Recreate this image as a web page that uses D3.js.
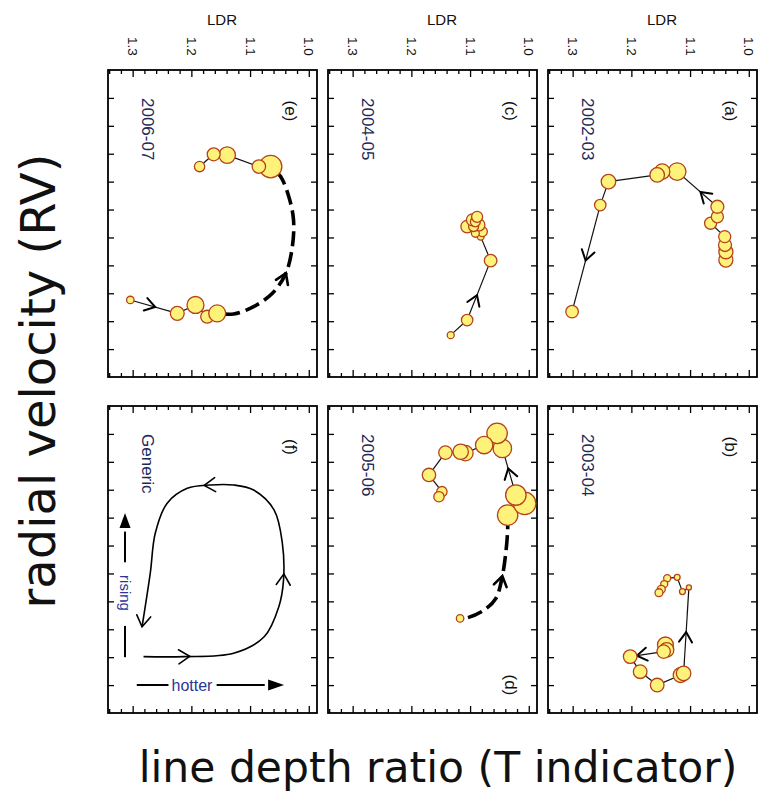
<!DOCTYPE html>
<html><head><meta charset="utf-8">
<script src="https://cdn.jsdelivr.net/npm/d3@7"></script>
<style>body{margin:0;background:#fff}svg{display:block}</style>
</head><body>
<script>
// ---------- data ----------
const ldrTicks = [1.0, 1.1, 1.2, 1.3];
const ldrTickLabels = ["1.0", "1.1", "1.2", "1.3"];
const ldrMinorTicks = [1.02,1.04,1.06,1.08,1.12,1.14,1.16,1.18,1.22,1.24,1.26,1.28,1.32,1.34];
const rvTicks = [1,2,3,4,5,6,7,8,9,10];

const panelLabels = ["(a)", "(b)", "(c)", "(d)", "(e)", "(f)"];
const panelPeriods = ["2002-03", "2003-04", "2004-05", "2005-06", "2006-07", "Generic"];

// (a) 2002-03
const aLDR = [1.039,1.039,1.0405,1.041,1.065,1.0535,1.0535,1.122,1.1475,1.156,1.239,1.253,1.301];
const aRV  = [6.81,6.51,6.27,5.97,5.49,5.26,4.90,3.64,3.64,3.76,4.00,4.84,8.66];
const aW   = [0.64,0.64,0.59,0.55,0.55,0.55,0.59,0.80,0.70,0.66,0.66,0.52,0.57];
// (b) 2003-04
const bLDR = [1.142,1.140,1.145,1.202,1.185,1.156,1.116,1.111,1.102,1.113,1.122,1.139,1.144,1.149,1.153];
const bRV  = [8.56,8.74,8.80,8.98,9.52,10.00,9.64,9.58,6.50,6.65,6.14,6.17,6.38,6.57,6.69];
const bW   = [0.72,0.66,0.61,0.62,0.62,0.62,0.68,0.66,0.23,0.27,0.27,0.32,0.32,0.36,0.36];
// (c) 2004-05
const cLDR = [1.133,1.105,1.065,1.082,1.079,1.091,1.085,1.105,1.094,1.096,1.091,1.088];
const cRV  = [9.50,8.96,6.83,5.97,5.79,5.85,5.55,5.61,5.61,5.37,5.44,5.26];
const cW   = [0.32,0.52,0.57,0.32,0.45,0.36,0.55,0.57,0.45,0.55,0.45,0.50];
// (d) 2005-06
const dLDR = [1.117,1.036,1.007,1.022,1.045,1.054,1.076,1.108,1.116,1.142,1.170,1.148,1.153];
const dRV  = [7.61,3.91,3.49,3.19,1.52,0.98,1.40,1.69,1.64,1.67,2.47,3.07,3.25];
const dW   = [0.34,0.93,1.02,0.93,0.84,0.93,0.79,0.70,0.70,0.61,0.61,0.47,0.47];
const dGapLDR = [1.117,1.105,1.076,1.056,1.045,1.039,1.036,1.036];
const dGapRV  = [7.61,7.59,7.31,6.89,6.09,5.23,4.44,3.91];
// (e) 2006-07
const eLDR = [1.304,1.224,1.193,1.173,1.156,1.065,1.085,1.139,1.162,1.186];
const eRV  = [8.24,8.72,8.42,8.84,8.72,3.46,3.46,3.05,3.02,3.46];
const eW   = [0.34,0.63,0.77,0.59,0.77,1.02,0.61,0.75,0.59,0.47];
const eGapLDR = [1.156,1.128,1.094,1.062,1.039,1.028,1.026,1.034,1.048,1.065];
const eGapRV  = [8.72,8.74,8.48,8.00,7.28,6.33,5.37,4.54,3.82,3.46];
// (f) generic loop
const fLoopLDR = [1.2815,1.213,1.128,1.076,1.051,1.043,1.045,1.059,1.094,1.128,1.168,1.207,1.2415,1.2615,1.270,1.284];
const fLoopRV  = [8.98,8.98,8.86,8.27,7.19,6.23,4.92,3.73,3.01,2.83,2.83,2.95,3.49,4.56,5.99,7.91];

// ---------- layout ----------
const W = 759, H = 795;
const colLeft = [108, 328, 548], rowTop = [70, 406];
const PW = 209, PH = 307;
const fillC = "#fff27a", strokeC = "#b5421a", navy = "#1c2a58", blue = "#2b3596";
const smallFont = "'Liberation Sans', Arial, sans-serif";

const svg = d3.select("body").append("svg").attr("width", W).attr("height", H)
  .style("background", "#fff");

const panels = [
  {i:0, col:2, row:0, ldr:aLDR, rv:aRV, w:aW, arrows:[{seg:6,t:0.42},{seg:11,t:0.52}]},
  {i:1, col:2, row:1, ldr:bLDR, rv:bRV, w:bW, arrows:[{seg:2,t:0.8},{seg:7,t:0.48}]},
  {i:2, col:1, row:0, ldr:cLDR, rv:cRV, w:cW, arrows:[{seg:1,t:0.42}]},
  {i:3, col:1, row:1, ldr:dLDR, rv:dRV, w:dW, arrows:[{seg:3,t:0.57}],
     gapSeg:0, gapLDR:dGapLDR, gapRV:dGapRV, gapArrow:4, labelBottom:true},
  {i:4, col:0, row:0, ldr:eLDR, rv:eRV, w:eW, arrows:[{seg:0,t:0.53}],
     gapSeg:4, gapLDR:eGapLDR, gapRV:eGapRV, gapArrow:4},
  {i:5, col:0, row:1, generic:true}
];

const rScale = d3.scaleLinear().domain([0, 1]).range([0, 11]);

function chevron(g, x, y, ang, size, half, sw) {
  g.append("path")
    .attr("d", `M${-size},${-half} L0,0 L${-size},${half}`)
    .attr("transform", `translate(${x},${y}) rotate(${ang * 180 / Math.PI})`)
    .attr("fill", "none").attr("stroke", "#000").attr("stroke-width", sw)
    .attr("stroke-linejoin", "miter").attr("stroke-linecap", "round");
}
function triHead(g, x, y, ang, len, half) {
  g.append("path")
    .attr("d", `M0,0 L${-len},${-half} L${-len},${half} Z`)
    .attr("transform", `translate(${x},${y}) rotate(${ang * 180 / Math.PI})`)
    .attr("fill", "#000");
}

panels.forEach(p => {
  const left = colLeft[p.col], top = rowTop[p.row];
  const x = d3.scaleLinear().domain([1.342, 0.986]).range([left, left + PW]);
  const y = d3.scaleLinear().domain([0, 11]).range([top, top + PH]);
  const g = svg.append("g");

  // axes (ticks inward)
  const styleAxis = sel => { sel.select(".domain").remove(); sel.selectAll("line").attr("stroke-width", 1.3); };
  g.append("g").attr("transform", `translate(0,${top})`)
    .call(d3.axisTop(x).tickValues(ldrTicks).tickSize(-7).tickFormat("")).call(styleAxis);
  g.append("g").attr("transform", `translate(0,${top})`)
    .call(d3.axisTop(x).tickValues(ldrMinorTicks).tickSize(-4).tickFormat("")).call(styleAxis);
  g.append("g").attr("transform", `translate(0,${top + PH})`)
    .call(d3.axisBottom(x).tickValues(ldrTicks).tickSize(-7).tickFormat("")).call(styleAxis);
  g.append("g").attr("transform", `translate(0,${top + PH})`)
    .call(d3.axisBottom(x).tickValues(ldrMinorTicks).tickSize(-4).tickFormat("")).call(styleAxis);
  g.append("g").attr("transform", `translate(${left},0)`)
    .call(d3.axisLeft(y).tickValues(rvTicks).tickSize(-6).tickFormat("")).call(styleAxis);
  g.append("g").attr("transform", `translate(${left + PW},0)`)
    .call(d3.axisRight(y).tickValues(rvTicks).tickSize(-6).tickFormat("")).call(styleAxis);
  g.append("rect").attr("x", left).attr("y", top).attr("width", PW).attr("height", PH)
    .attr("fill", "none").attr("stroke", "#000").attr("stroke-width", 1.8);

  if (p.row === 0) {
    ldrTicks.forEach((v, k) => {
      g.append("text").attr("transform", `translate(${x(v)},37) rotate(90)`)
        .attr("text-anchor", "start").attr("dominant-baseline", "central")
        .attr("font-family", smallFont).attr("font-size", 13.5).attr("fill", "#111")
        .text(ldrTickLabels[k]);
    });
    g.append("text").attr("x", left + 114).attr("y", 25).attr("text-anchor", "middle")
      .attr("font-family", smallFont).attr("font-size", 15).attr("fill", "#111").text("LDR");
  }

  // panel label and period
  const ly = p.labelBottom ? top + 279 : top + 41;
  g.append("text").attr("transform", `translate(${left + 182},${ly}) rotate(90)`)
    .attr("text-anchor", "middle").attr("dominant-baseline", "central")
    .attr("font-family", smallFont).attr("font-size", 17).attr("fill", "#111")
    .text(panelLabels[p.i]);
  g.append("text").attr("transform", `translate(${left + 39},${top + 28}) rotate(90)`)
    .attr("text-anchor", "start").attr("dominant-baseline", "central")
    .attr("font-family", smallFont).attr("font-size", 17).attr("fill", navy)
    .text(panelPeriods[p.i]);

  if (p.generic) {
    const pts = fLoopLDR.map((v, k) => [x(v), y(fLoopRV[k])]);
    g.append("path").attr("d", d3.line().curve(d3.curveCatmullRom.alpha(0.5))(pts))
      .attr("fill", "none").attr("stroke", "#000").attr("stroke-width", 1.6);
    [1, 5, 10].forEach(k => {
      const a = Math.atan2(pts[k + 1][1] - pts[k - 1][1], pts[k + 1][0] - pts[k - 1][0]);
      chevron(g, pts[k][0] + 6 * Math.cos(a), pts[k][1] + 6 * Math.sin(a), a, 11, 7, 1.6);
    });
    const n = pts.length - 1;
    chevron(g, pts[n][0], pts[n][1], Math.atan2(pts[n][1] - pts[n - 1][1], pts[n][0] - pts[n - 1][0]), 11, 7, 1.6);

    // "rising" arrow
    const rx = x(1.313);
    g.append("line").attr("x1", rx).attr("x2", rx).attr("y1", y(9.0)).attr("y2", y(7.88))
      .attr("stroke", "#000").attr("stroke-width", 2);
    g.append("line").attr("x1", rx).attr("x2", rx).attr("y1", y(5.6)).attr("y2", y(4.5))
      .attr("stroke", "#000").attr("stroke-width", 2);
    triHead(g, rx, y(3.83), -Math.PI / 2, 15, 5.5);
    g.append("text").attr("transform", `translate(${rx},${y(6.7)}) rotate(90)`)
      .attr("text-anchor", "middle").attr("dominant-baseline", "central")
      .attr("font-family", smallFont).attr("font-size", 15).attr("fill", blue).text("rising");
    // "hotter" arrow
    const hy = y(10.0);
    g.append("line").attr("x1", x(1.293)).attr("x2", x(1.239)).attr("y1", hy).attr("y2", hy)
      .attr("stroke", "#000").attr("stroke-width", 2);
    g.append("line").attr("x1", x(1.157)).attr("x2", x(1.075)).attr("y1", hy).attr("y2", hy)
      .attr("stroke", "#000").attr("stroke-width", 2);
    triHead(g, x(1.042), hy, 0, 16, 5.5);
    g.append("text").attr("x", x(1.199)).attr("y", hy).attr("text-anchor", "middle")
      .attr("dominant-baseline", "central")
      .attr("font-family", smallFont).attr("font-size", 16).attr("fill", blue).text("hotter");
    return;
  }

  const px = p.ldr.map(v => x(v)), py = p.rv.map(v => y(v));
  // solid connectors
  for (let k = 0; k < px.length - 1; k++) {
    if (k === p.gapSeg) continue;
    g.append("line").attr("x1", px[k]).attr("y1", py[k]).attr("x2", px[k + 1]).attr("y2", py[k + 1])
      .attr("stroke", "#111").attr("stroke-width", 1.2);
  }
  // dashed gap curve
  if (p.gapLDR) {
    const gp = p.gapLDR.map((v, k) => [x(v), y(p.gapRV[k])]);
    g.append("path").attr("d", d3.line().curve(d3.curveCatmullRom.alpha(0.5))(gp))
      .attr("fill", "none").attr("stroke", "#000").attr("stroke-width", 3.6)
      .attr("stroke-dasharray", "15,6").attr("stroke-dashoffset", -8);
    const k = p.gapArrow;
    const a = Math.atan2(gp[k + 1][1] - gp[k - 1][1], gp[k + 1][0] - gp[k - 1][0]);
    chevron(g, gp[k][0], gp[k][1], a, 10, 6.5, 2.6);
  }
  // arrows on solid segments
  p.arrows.forEach(ar => {
    const k = ar.seg;
    const ax = px[k] + (px[k + 1] - px[k]) * ar.t, ay = py[k] + (py[k + 1] - py[k]) * ar.t;
    chevron(g, ax, ay, Math.atan2(py[k + 1] - py[k], px[k + 1] - px[k]), 10, 6.5, 2);
  });
  // circles
  g.selectAll("circle.pt").data(p.ldr.map((v, k) => k)).join("circle")
    .attr("cx", k => px[k]).attr("cy", k => py[k]).attr("r", k => rScale(p.w[k]))
    .attr("fill", fillC).attr("stroke", strokeC).attr("stroke-width", 1.3);
});

// big axis titles
svg.append("text").attr("x", 438).attr("y", 782).attr("text-anchor", "middle")
  .attr("font-family", "'DejaVu Sans', sans-serif").attr("font-size", 42.5).attr("fill", "#111")
  .text("line depth ratio (T indicator)");
svg.append("text").attr("transform", "translate(55,381) rotate(-90)").attr("text-anchor", "middle")
  .attr("font-family", "'DejaVu Sans', sans-serif").attr("font-size", 48).attr("fill", "#111")
  .text("radial velocity (RV)");
</script>
</body></html>
